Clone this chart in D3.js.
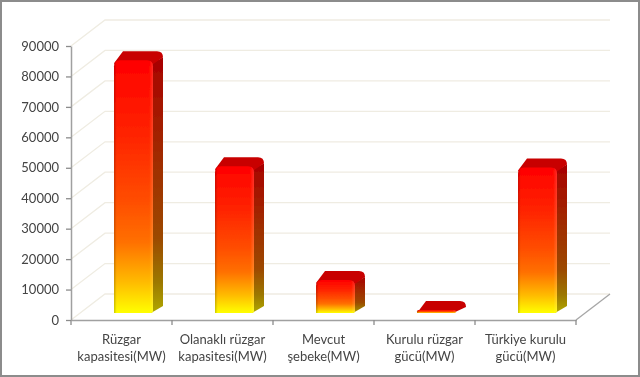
<!DOCTYPE html>
<html>
<head>
<meta charset="utf-8">
<script src="https://d3js.org/d3.v7.min.js"></script>
<style>
html, body { margin: 0; padding: 0; background: #fff; }
svg { display: block; }
text { font-family: Lato, "Open Sans", sans-serif; fill: #444; }
</style>
</head>
<body>
<svg id="chart" width="640" height="377"></svg>
<script>
var categories = [
  ['Rüzgar', 'kapasitesi(MW)'],
  ['Olanaklı rüzgar', 'kapasitesi(MW)'],
  ['Mevcut', 'şebeke(MW)'],
  ['Kurulu rüzgar', 'gücü(MW)'],
  ['Türkiye kurulu', 'gücü(MW)']
];
var values = [83000, 48200, 10800, 1000, 47800];
var yTicks = [0, 10000, 20000, 30000, 40000, 50000, 60000, 70000, 80000, 90000];

var root = d3.select('#chart'),
  plotLeft = 71, plotRight = 576, plotTop = 46, plotBottom = 320,
  wallX = 34, wallY = -26, // back wall offset
  depthX = 10, depthY = -9; // bar depth

var x = d3.scaleBand().domain(d3.range(categories.length)).range([plotLeft, plotRight]);
var y = d3.scaleLinear().domain([0, 90000]).range([plotBottom, plotTop]);

var defs = root.append('defs');

var addGrad = function(id, stops, horizontal) {
  var g = defs.append('linearGradient').attr('id', id)
    .attr('x1', 0).attr('y1', 0)
    .attr('x2', horizontal ? 1 : 0).attr('y2', horizontal ? 0 : 1);
  stops.forEach(function(s) {
    g.append('stop').attr('offset', s[0]).attr('stop-color', s[1]).attr('stop-opacity', s[2] === undefined ? 1 : s[2]);
  });
};
addGrad('front', [[0, '#ff0000'], [0.3, '#ff2400'], [0.55, '#ff4c00'], [0.72, '#ff7000'], [0.88, '#ffbc00'], [1, '#ffff00']]);
addGrad('side', [[0, '#a80000'], [0.4, '#a02c00'], [0.7, '#9c4800'], [0.88, '#9c7800'], [1, '#b0a800']]);
addGrad('edge', [[0, '#000', 0.2], [0.07, '#000', 0], [0.9, '#fff', 0], [1, '#fff', 0.16]], true);

defs.append('filter').attr('id', 'soft')
  .attr('filterUnits', 'userSpaceOnUse')
  .attr('x', 0).attr('y', 0).attr('width', 640).attr('height', 377)
  .append('feGaussianBlur').attr('stdDeviation', 0.45);

var svg = root.append('g').attr('filter', 'url(#soft)');

svg.append('rect').attr('x', 1).attr('y', 1).attr('width', 638).attr('height', 375)
  .attr('fill', '#fff').attr('stroke', '#8c8c8c').attr('stroke-width', 2);

// walls
svg.append('g').selectAll('path').data(yTicks).enter().append('path')
  .attr('fill', 'none')
  .attr('stroke', '#efece2')
  .attr('stroke-width', 1.3)
  .attr('d', function(d) {
    return 'M' + plotLeft + ',' + y(d) + 'L' + (plotLeft + wallX) + ',' + (y(d) + wallY) +
      'L' + (plotRight + wallX) + ',' + (y(d) + wallY);
  });

// floor edge on the right
svg.append('path')
  .attr('fill', 'none').attr('stroke', '#a6a6a6').attr('stroke-width', 1.3)
  .attr('d', 'M' + plotRight + ',' + plotBottom + 'L' + (plotRight + wallX) + ',' + (plotBottom + wallY));

var yAxis = d3.axisLeft(y).tickValues(yTicks).tickFormat(d3.format('d')).tickSize(5).tickSizeOuter(0);
var xAxis = d3.axisBottom(x).tickSize(0).tickFormat('');

var gy = svg.append('g').attr('transform', 'translate(' + plotLeft + ',0)').call(yAxis);
gy.selectAll('text').attr('font-size', 13).attr('dx', -4).style('fill', '#444');

var gx = svg.append('g').attr('transform', 'translate(0,' + plotBottom + ')').call(xAxis);
gx.selectAll('.tick').remove();
gx.selectAll('.edge').data(d3.range(categories.length + 1)).enter().append('line')
  .attr('class', 'edge')
  .attr('x1', function(d) { return d < categories.length ? x(d) : plotRight; })
  .attr('x2', function(d) { return d < categories.length ? x(d) : plotRight; })
  .attr('y1', 0).attr('y2', 5).attr('stroke', '#8c8c8c').attr('stroke-width', 1.3);
svg.selectAll('.domain').attr('stroke', '#a0a0a0').attr('stroke-width', 1.5);
svg.selectAll('.tick line').attr('stroke', '#8c8c8c').attr('stroke-width', 1.3);

// category labels
var labels = svg.append('g').selectAll('text').data(categories).enter().append('text')
  .attr('text-anchor', 'middle')
  .attr('font-size', 13)
  .attr('transform', function(d, i) { return 'translate(' + (x(i) + x.bandwidth() / 2) + ',344)'; });
labels.selectAll('tspan').data(function(d) { return d; }).enter().append('tspan')
  .attr('x', 0).attr('dy', function(d, i) { return i ? 16.5 : 0; })
  .text(function(d) { return d; });

// bars
var barGap = 43, barW = 39, baseY = 313, r = 6;
var h = function(v) { return y(0) - y(v); };
var bars = svg.append('g').selectAll('g').data(values).enter().append('g')
  .attr('transform', function(d, i) { return 'translate(' + (x(i) + barGap) + ',' + baseY + ')'; });

bars.filter(function(d) { return h(d) > 10; }).append('path') // side
  .attr('fill', 'url(#side)')
  .attr('d', function(d) {
    var t = -h(d);
    return 'M' + (barW - 2) + ',0L' + (barW + depthX) + ',' + (depthY + 2) +
      'L' + (barW + depthX) + ',' + (t + depthY + r) +
      'L' + (barW - r) + ',' + (t + r) + 'Z';
  });

bars.append('path') // top
  .attr('fill', '#c80000')
  .attr('d', function(d) {
    var t = -h(d), low = Math.min(t + r, 0);
    return 'M0,' + (t + 3) + 'L' + (depthX - 1) + ',' + (t + depthY) +
      'L' + (barW + depthX - r) + ',' + (t + depthY) +
      'Q' + (barW + depthX) + ',' + (t + depthY) + ' ' + (barW + depthX) + ',' + (t + depthY + r) +
      'L' + (barW - 3) + ',' + low + 'L3,' + low + 'Z';
  });

var frontPath = function(d) {
  var t = -h(d), rr = Math.min(r, h(d) / 2);
  return 'M0,0L0,' + (t + rr) + 'Q0,' + t + ' ' + rr + ',' + t +
    'L' + (barW - rr) + ',' + t + 'Q' + barW + ',' + t + ' ' + barW + ',' + (t + rr) +
    'L' + barW + ',' + (-Math.min(2, rr)) + 'Q' + barW + ',0 ' + (barW - Math.min(2, rr)) + ',0Z';
};
bars.append('path').attr('fill', 'url(#front)').attr('d', frontPath);
bars.append('path').attr('fill', 'url(#edge)').attr('d', frontPath);
</script>
</body>
</html>
